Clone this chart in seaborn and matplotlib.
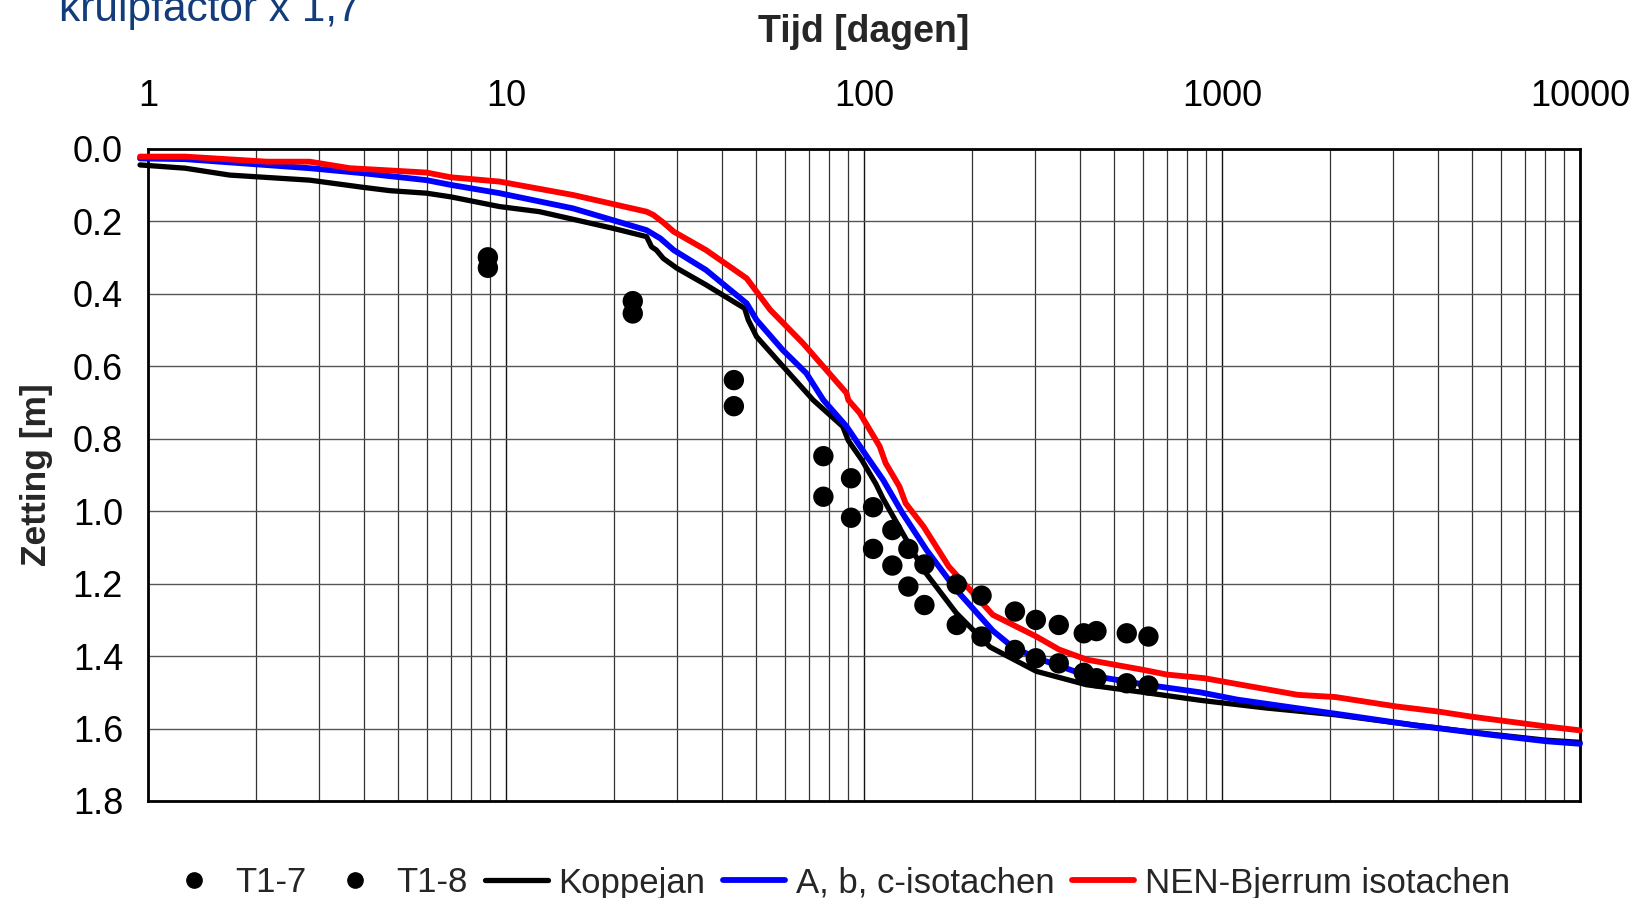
import numpy as np
import pandas as pd
import matplotlib
matplotlib.use("Agg")
import matplotlib.pyplot as plt
import matplotlib.ticker as mticker
from matplotlib.lines import Line2D
import seaborn as sns

# ---------------- data ----------------
meet_t = [8.9, 22.6, 43.3, 77, 92, 106, 120, 133, 147.5, 181.6, 213, 264, 302, 350, 411, 446, 542, 623]
t1_7 = [0.299, 0.420, 0.638, 0.848, 0.909, 0.989, 1.052, 1.104, 1.147, 1.202, 1.233, 1.277, 1.300, 1.314, 1.337, 1.331, 1.337, 1.346]
t1_8 = [0.328, 0.454, 0.710, 0.960, 1.018, 1.104, 1.150, 1.208, 1.259, 1.314, 1.346, 1.383, 1.406, 1.420, 1.446, 1.461, 1.475, 1.481]

kop_t = [0.95, 1.27, 1.69, 2.83, 4.0, 4.74, 6.0, 7.0, 9.6, 12.4, 19.9, 24.7, 25.5, 26.3, 27.5, 30.0, 36.2,
         46.4, 47.5, 50.1, 57.2, 72.1, 87.2, 90.4, 98.5, 108, 113, 146.6, 181, 225, 303, 418, 603, 870,
         1321, 2074, 3000, 5000, 8000, 10000]
kop_z = [0.044, 0.053, 0.072, 0.086, 0.106, 0.115, 0.122, 0.132, 0.159, 0.173, 0.219, 0.242, 0.270, 0.279, 0.302, 0.329, 0.375,
         0.440, 0.472, 0.518, 0.582, 0.693, 0.766, 0.805, 0.858, 0.925, 0.965, 1.162, 1.281, 1.375, 1.442, 1.479, 1.500, 1.522,
         1.543, 1.562, 1.583, 1.610, 1.632, 1.638]

abc_t = [0.95, 1.27, 2.83, 4.0, 6.0, 7.0, 9.6, 15.4, 24.7, 27.0, 29.4, 36.2, 47, 50.1, 59.3, 69, 77, 89.4,
         101.9, 113, 128, 149.5, 181, 229, 260, 303, 409, 603, 870, 1102, 2074, 3459, 5600, 8035, 10000]
abc_z = [0.026, 0.028, 0.053, 0.067, 0.086, 0.099, 0.122, 0.164, 0.224, 0.247, 0.279, 0.334, 0.426, 0.472, 0.555, 0.619, 0.693, 0.766,
         0.849, 0.913, 1.005, 1.107, 1.217, 1.330, 1.375, 1.405, 1.450, 1.478, 1.500, 1.520, 1.559, 1.591, 1.617, 1.635, 1.642]

nen_t = [0.95, 1.27, 2.15, 2.83, 3.66, 6.0, 7.0, 9.6, 15.4, 24.7, 25.8, 27.5, 29.4, 36.2, 47, 49.7, 54.7, 67.5,
         89.4, 90.4, 97.3, 110.6, 114.9, 125.6, 130.7, 146.6, 172.6, 229, 303, 351, 420, 603, 702, 893,
         1630, 2074, 3069, 4019, 4963, 8035, 10000]
nen_z = [0.021, 0.021, 0.035, 0.035, 0.053, 0.065, 0.078, 0.090, 0.127, 0.173, 0.182, 0.203, 0.228, 0.279, 0.357, 0.389, 0.444, 0.536,
         0.674, 0.693, 0.729, 0.821, 0.867, 0.932, 0.978, 1.042, 1.153, 1.286, 1.346, 1.382, 1.410, 1.438, 1.451, 1.461,
         1.507, 1.513, 1.539, 1.553, 1.567, 1.594, 1.605]

x_ticks = [1, 10, 100, 1000, 10000]
x_ticklabels = ["1", "10", "100", "1000", "10000"]
y_ticks = [0.0, 0.2, 0.4, 0.6, 0.8, 1.0, 1.2, 1.4, 1.6, 1.8]

# ---------------- style ----------------
sns.set_style("white")
plt.rcParams["font.family"] = ["Liberation Sans", "DejaVu Sans"]

fig = plt.figure(figsize=(16.34, 8.98), dpi=100)
ax = fig.add_axes([148 / 1634, 1 - 801 / 898, (1580 - 148) / 1634, (801 - 149) / 898])

ax.set_xscale("log")
ax.set_xlim(1, 10000)
ax.set_ylim(1.8, 0.0)

# grid
ax.xaxis.set_major_locator(mticker.FixedLocator(x_ticks))
ax.xaxis.set_minor_locator(mticker.LogLocator(base=10, subs=np.arange(2, 10)))
ax.xaxis.set_minor_formatter(mticker.NullFormatter())
ax.set_xticklabels(x_ticklabels)
ax.set_yticks(y_ticks)
ax.set_yticklabels([f"{v:.1f}" for v in y_ticks])
ax.grid(True, which="major", axis="x", color="#111111", lw=1.0)
ax.grid(True, which="minor", axis="x", color="#333333", lw=0.9)
ax.grid(True, which="major", axis="y", color="#555555", lw=1.0)
ax.set_axisbelow(True)

# lines
df_k = pd.DataFrame({"t": kop_t, "z": kop_z})
df_a = pd.DataFrame({"t": abc_t, "z": abc_z})
df_n = pd.DataFrame({"t": nen_t, "z": nen_z})
sns.lineplot(data=df_k, x="t", y="z", ax=ax, color="black", lw=3.8, sort=False, clip_on=False, zorder=3)
sns.lineplot(data=df_a, x="t", y="z", ax=ax, color="#0000FF", lw=4.2, sort=False, clip_on=False, zorder=4)
sns.lineplot(data=df_n, x="t", y="z", ax=ax, color="#FF0000", lw=4.2, sort=False, clip_on=False, zorder=5)

# points
df_p = pd.DataFrame({"t": meet_t + meet_t, "z": t1_7 + t1_8})
sns.scatterplot(data=df_p, x="t", y="z", ax=ax, color="black", s=215, edgecolor="none", zorder=6)

# axes styling
for sp in ax.spines.values():
    sp.set_visible(True)
    sp.set_color("black")
    sp.set_linewidth(2.0)
ax.xaxis.tick_top()
ax.xaxis.set_label_position("top")
ax.tick_params(axis="both", which="both", length=0, labelsize=26, colors="black")
ax.tick_params(axis="x", pad=25)
ax.tick_params(axis="y", pad=18)
ax.set_xlabel("Tijd [dagen]", fontsize=27, fontweight="bold", labelpad=27)
ax.set_ylabel("Zetting [m]", fontsize=25.5, fontweight="bold", labelpad=14)

# title (partly cut off at top, as in reference)
fig.text(59 / 1634, 1 - 21 / 898, "kruipfactor x 1,7", color="#123C7A", fontsize=30.5,
         ha="left", va="baseline")

# legend
handles = [
    Line2D([], [], ls="none", marker="o", color="black", markersize=11),
    Line2D([], [], ls="none", marker="o", color="black", markersize=11),
    Line2D([], [], color="black", lw=3.8),
    Line2D([], [], color="#0000FF", lw=4.2),
    Line2D([], [], color="#FF0000", lw=4.2),
]
labels = ["T1-7", "T1-8", "Koppejan", "A, b, c-isotachen", "NEN-Bjerrum isotachen"]
fig.legend(handles, labels, loc="center", bbox_to_anchor=(836 / 1634, 1 - 883 / 898), ncol=5,
           frameon=False, fontsize=25, handlelength=1.8, handletextpad=0.3, columnspacing=0.5,
           borderaxespad=0, borderpad=0)

fig.savefig("out.png", dpi=100)
